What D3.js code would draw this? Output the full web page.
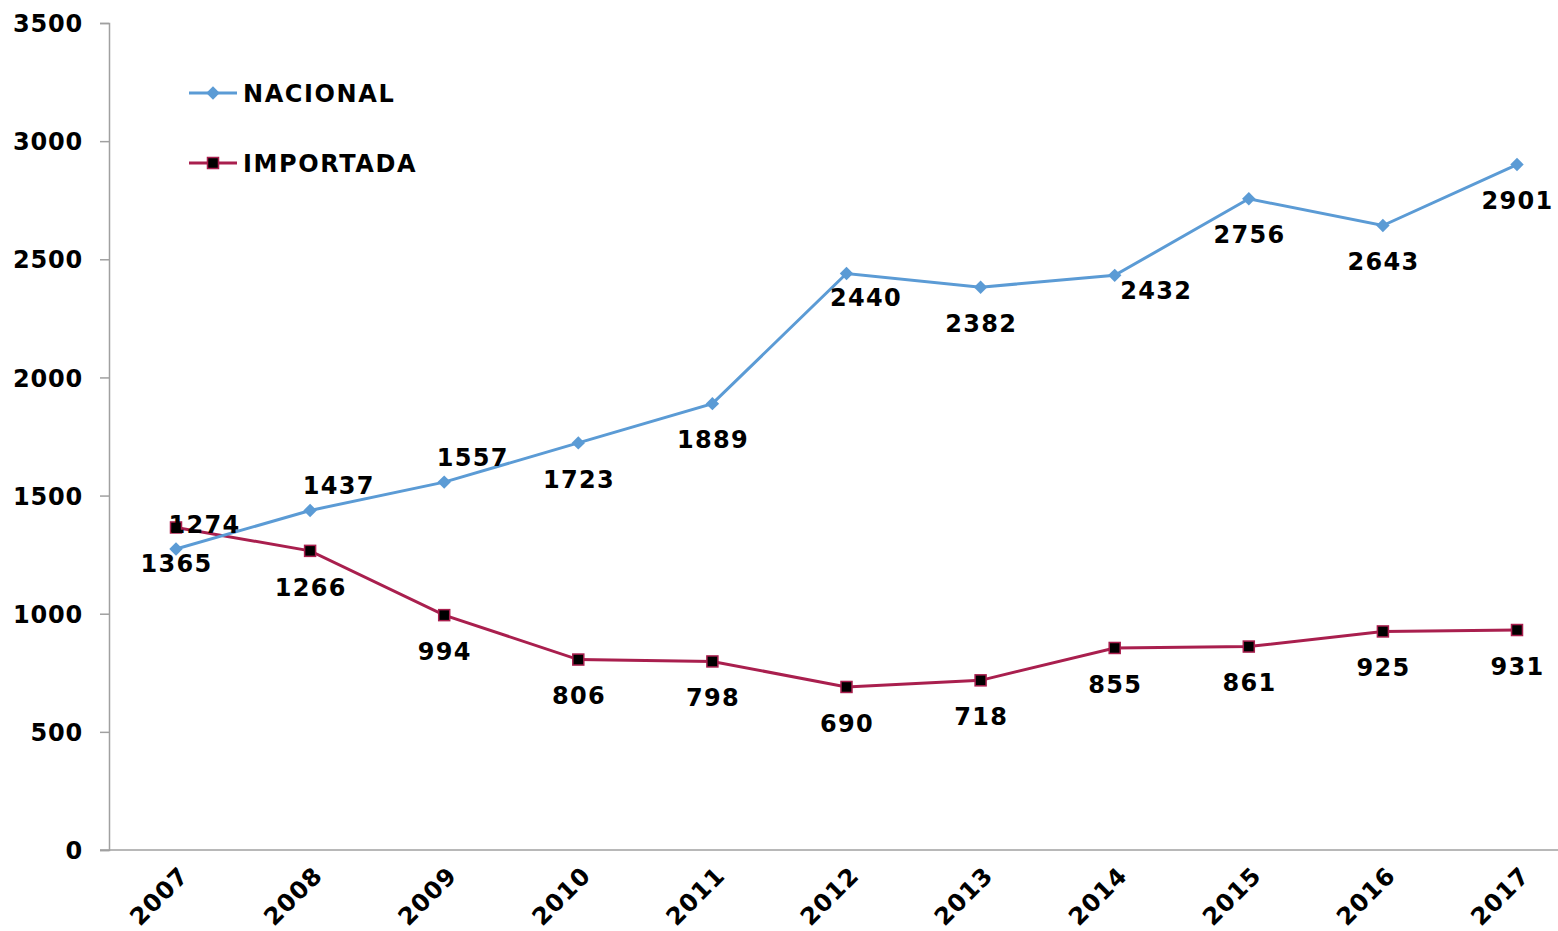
<!DOCTYPE html>
<html>
<head>
<meta charset="utf-8">
<script src="https://cdn.jsdelivr.net/npm/d3@7/dist/d3.min.js"></script>
<style>
  html, body { margin: 0; padding: 0; background: #ffffff; }
  svg text { font-family: "DejaVu Sans", Verdana, sans-serif; font-weight: bold; fill: #000; }
</style>
</head>
<body>
<svg id="chart" width="1558" height="931"></svg>
<script>
const years = ["2007","2008","2009","2010","2011","2012","2013","2014","2015","2016","2017"];
const nacional = [1274, 1437, 1557, 1723, 1889, 2440, 2382, 2432, 2756, 2643, 2901];
const importada = [1365, 1266, 994, 806, 798, 690, 718, 855, 861, 925, 931];
const nacionalLabelPlacement = ["above","above","above","below","below","belowRight","below","right","below","below","below"];
const importadaLabelPlacement = ["below","below","below","below","below","below","below","below","below","below","below"];
const yTicks = [0, 500, 1000, 1500, 2000, 2500, 3000, 3500];
const seriesNames = ["NACIONAL", "IMPORTADA"];

(function () {
const svg = d3.select("#chart");
const W = 1558;
const mLeft = 109, mTop = 23, mBottom = 850;

const x = d3.scalePoint().domain(years).range([176, 1517]);
const y = d3.scaleLinear().domain([0, 3500]).range([mBottom, mTop]);

const axisColor = "#a0a0a0";

// Y axis
const yAxis = svg.append("g").attr("transform", `translate(${mLeft},0)`)
  .call(d3.axisLeft(y).tickValues(yTicks).tickSize(9).tickPadding(17).tickFormat(d3.format("d")));
yAxis.select(".domain").attr("stroke", axisColor).attr("stroke-width", 1.5);
yAxis.selectAll(".tick line").attr("stroke", axisColor).attr("stroke-width", 1.5);
yAxis.selectAll(".tick text").style("font-size", "24px").style("letter-spacing", "0.8px")
  .attr("dy", "0.36em");

// X axis
const xAxisG = svg.append("g").attr("transform", `translate(0,${mBottom})`);
xAxisG.append("line").attr("x1", mLeft - 9).attr("x2", W).attr("y1", 0).attr("y2", 0)
  .attr("stroke", axisColor).attr("stroke-width", 1.5);
xAxisG.selectAll("text.year").data(years).enter().append("text")
  .attr("class", "year")
  .attr("text-anchor", "end")
  .style("font-size", "24px").style("letter-spacing", "1px")
  .attr("transform", d => `translate(${x(d) + 14},${27}) rotate(-45)`)
  .text(d => d);

const blue = "#5b9bd5";
const red = "#a91f4e";

const line = d3.line().x((d, i) => x(years[i])).y(d => y(d));

svg.append("path").datum(importada).attr("d", line)
  .attr("fill", "none").attr("stroke", red).attr("stroke-width", 3);
svg.append("path").datum(nacional).attr("d", line)
  .attr("fill", "none").attr("stroke", blue).attr("stroke-width", 3);

svg.selectAll("rect.imp").data(importada).enter().append("rect")
  .attr("class", "imp")
  .attr("x", (d, i) => x(years[i]) - 5.5).attr("y", d => y(d) - 5.5)
  .attr("width", 11).attr("height", 11)
  .attr("fill", "#000").attr("stroke", red).attr("stroke-width", 1.5);

svg.selectAll("path.nac").data(nacional).enter().append("path")
  .attr("class", "nac")
  .attr("transform", (d, i) => `translate(${x(years[i])},${y(d)}) rotate(45)`)
  .attr("d", d3.symbol().type(d3.symbolSquare).size(90))
  .attr("fill", blue);

function offset(p) {
  switch (p) {
    case "above": return [28, -25];
    case "below": return [0, 36];
    case "belowRight": return [19, 24];
    case "right": return [41, 15];
  }
  return [0, 0];
}

function labels(data, placement) {
  svg.append("g").selectAll("text").data(data).enter().append("text")
    .attr("text-anchor", "middle")
    .attr("dy", "0.36em")
    .style("font-size", "24px").style("letter-spacing", "1.3px")
    .attr("x", (d, i) => x(years[i]) + offset(placement[i])[0] + 0.6)
    .attr("y", (d, i) => y(d) + offset(placement[i])[1])
    .text(d => d);
}
labels(nacional, nacionalLabelPlacement);
labels(importada, importadaLabelPlacement);

// Legend
const leg = svg.append("g");
const legendY = [93, 163];
const legendColors = [blue, red];
seriesNames.forEach((name, i) => {
  const g = leg.append("g").attr("transform", `translate(0,${legendY[i]})`);
  g.append("line").attr("x1", 189).attr("x2", 237).attr("y1", 0).attr("y2", 0)
    .attr("stroke", legendColors[i]).attr("stroke-width", 3);
  if (i === 0) {
    g.append("path").attr("transform", "translate(213,0) rotate(45)")
      .attr("d", d3.symbol().type(d3.symbolSquare).size(90)).attr("fill", blue);
  } else {
    g.append("rect").attr("x", 207.5).attr("y", -5.5).attr("width", 11).attr("height", 11)
      .attr("fill", "#000").attr("stroke", red).attr("stroke-width", 1.5);
  }
  g.append("text").attr("x", 243).attr("dy", "0.36em")
    .style("font-size", "24px").style("letter-spacing", "1.6px")
    .text(name);
});
})();
</script>
</body>
</html>
